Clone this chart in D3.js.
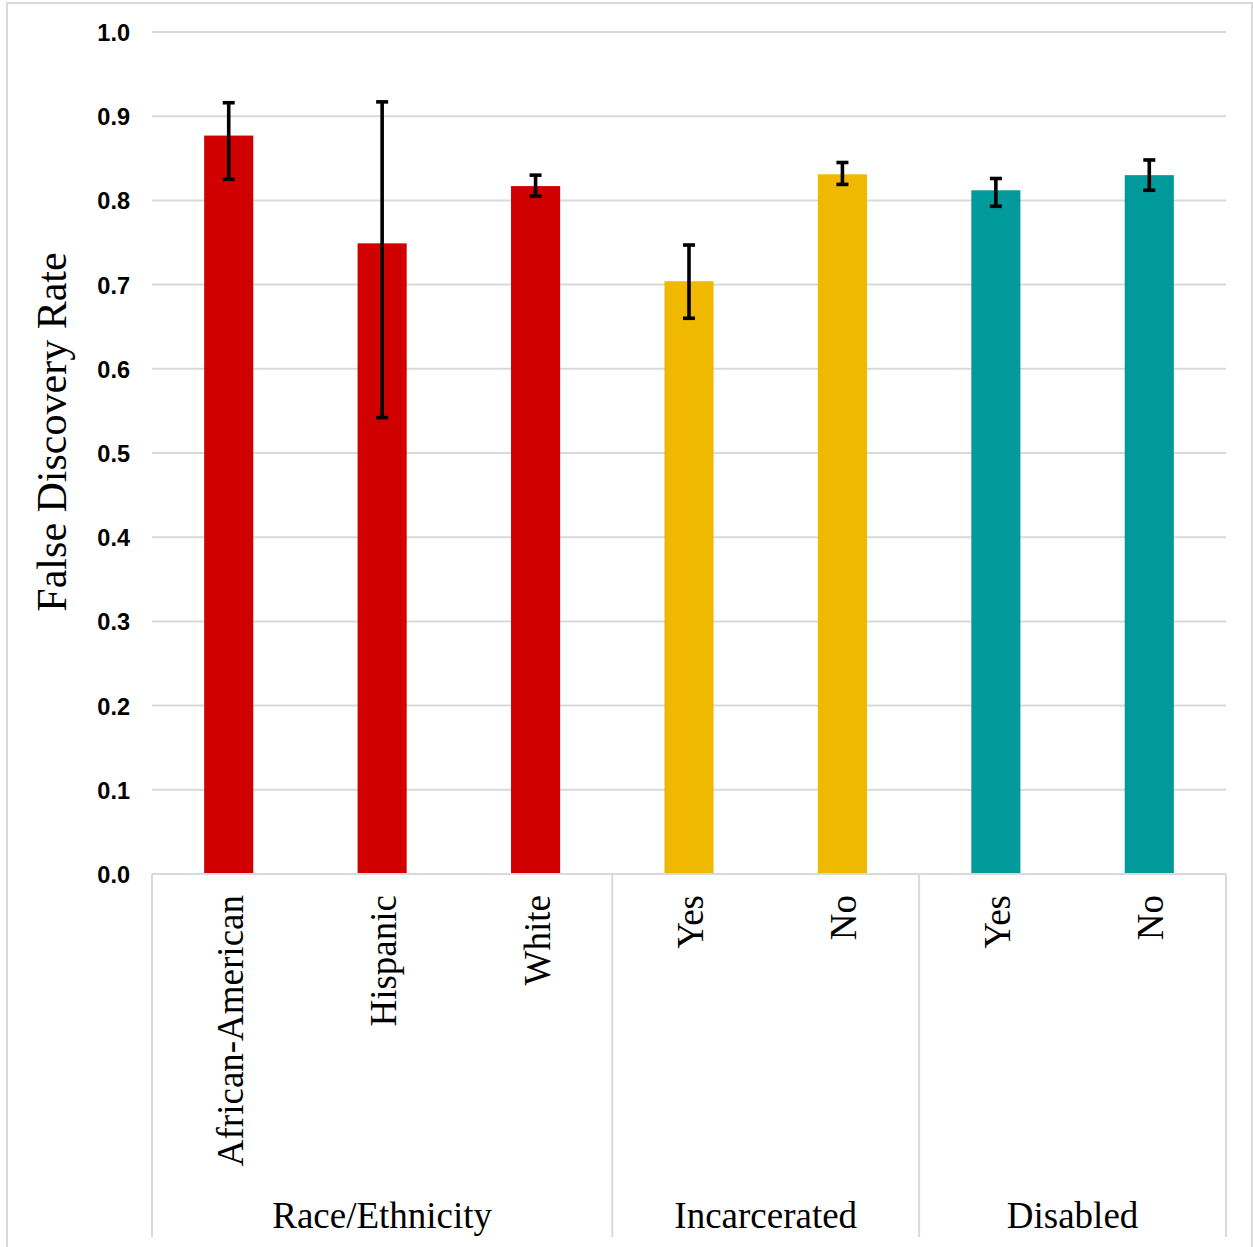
<!DOCTYPE html>
<html>
<head>
<meta charset="utf-8">
<script src="https://cdn.jsdelivr.net/npm/d3@7"></script>
<style>
  html, body { margin: 0; padding: 0; background: #fff; }
  svg { display: block; }
</style>
</head>
<body>
<svg id="chart" width="1253" height="1247"></svg>
<script>
// ---- data ----
const categories = ["African-American", "Hispanic", "White", "Yes", "No", "Yes", "No"];
const groupOf    = [0, 0, 0, 1, 1, 2, 2];
const groups     = ["Race/Ethnicity", "Incarcerated", "Disabled"];
const groupColors = ["#D10000", "#F1B800", "#009A9A"];
const values     = [0.877, 0.749, 0.817, 0.704, 0.831, 0.812, 0.830];
const errHigh    = [0.916, 0.917, 0.830, 0.747, 0.845, 0.826, 0.848];
const errLow     = [0.825, 0.542, 0.805, 0.660, 0.819, 0.793, 0.812];
const yTicks     = [0, 0.1, 0.2, 0.3, 0.4, 0.5, 0.6, 0.7, 0.8, 0.9, 1.0];
const yTitle     = "False Discovery Rate";

(function () {
// ---- layout ----
const svg = d3.select("#chart");
const pLeft = 152, pRight = 1226, pTop = 32, pBottom = 874;
const grid = "#d9d9d9";

const idx = categories.map((_, i) => i);
const x = d3.scaleBand().domain(idx).range([pLeft, pRight]).paddingInner(0.68).paddingOuter(0.34);
const y = d3.scaleLinear().domain([0, 1]).range([pBottom, pTop]);
const gap = (x.step() - x.bandwidth()) / 2;
const boundary = i => (i < idx.length ? x(i) - gap : x(idx.length - 1) + x.bandwidth() + gap);

// outer border
svg.append("rect").attr("x", 7).attr("y", 3).attr("width", 1245).attr("height", 1260)
  .attr("fill", "none").attr("stroke", grid).attr("stroke-width", 2);

// gridlines
svg.append("g").selectAll("line").data(yTicks.slice(1)).join("line")
  .attr("x1", pLeft).attr("x2", pRight)
  .attr("y1", d => y(d)).attr("y2", d => y(d))
  .attr("stroke", grid).attr("stroke-width", 2);

// y axis labels
const yAxis = d3.axisLeft(y).tickValues(yTicks).tickFormat(d3.format(".1f")).tickSize(0).tickPadding(22);
const ya = svg.append("g").attr("transform", `translate(${pLeft},0)`).call(yAxis);
ya.select(".domain").remove();
ya.selectAll("text")
  .attr("font-family", "'Liberation Sans', Arial, sans-serif")
  .attr("font-weight", "bold").attr("font-size", 23.5).attr("fill", "#000")
  .attr("dy", "0.36em");

// bars
svg.append("g").selectAll("rect").data(idx).join("rect")
  .attr("x", i => x(i)).attr("width", x.bandwidth())
  .attr("y", i => y(values[i])).attr("height", i => y(0) - y(values[i]))
  .attr("fill", i => groupColors[groupOf[i]]);

// error bars
const eb = svg.append("g").attr("stroke", "#000").attr("stroke-width", 3.6);
const cx = i => x(i) + x.bandwidth() / 2;
eb.selectAll("line.v").data(idx).join("line").attr("class", "v")
  .attr("x1", cx).attr("x2", cx)
  .attr("y1", i => y(errHigh[i])).attr("y2", i => y(errLow[i]));
eb.selectAll("line.t").data(idx).join("line").attr("class", "t")
  .attr("x1", i => cx(i) - 6).attr("x2", i => cx(i) + 6)
  .attr("y1", i => y(errHigh[i])).attr("y2", i => y(errHigh[i]));
eb.selectAll("line.b").data(idx).join("line").attr("class", "b")
  .attr("x1", i => cx(i) - 6).attr("x2", i => cx(i) + 6)
  .attr("y1", i => y(errLow[i])).attr("y2", i => y(errLow[i]));

// x axis line
svg.append("line").attr("x1", pLeft).attr("x2", pRight).attr("y1", pBottom).attr("y2", pBottom)
  .attr("stroke", grid).attr("stroke-width", 2);

// group separators
const bounds = [0, 3, 5, 7];
svg.append("g").selectAll("line").data(bounds).join("line")
  .attr("x1", b => boundary(b)).attr("x2", b => boundary(b))
  .attr("y1", pBottom).attr("y2", 1237)
  .attr("stroke", grid).attr("stroke-width", 2);

// category labels
svg.append("g").selectAll("text").data(idx).join("text")
  .attr("transform", i => `translate(${cx(i)},895) rotate(-90)`)
  .attr("text-anchor", "end").attr("dy", "0.38em")
  .attr("font-family", "'Liberation Serif', 'Times New Roman', serif")
  .attr("font-size", 37).attr("fill", "#000")
  .text(i => categories[i]);

// group labels
svg.append("g").selectAll("text").data(groups).join("text")
  .attr("x", (g, gi) => (boundary(bounds[gi]) + boundary(bounds[gi + 1])) / 2)
  .attr("y", 1228).attr("text-anchor", "middle")
  .attr("font-family", "'Liberation Serif', 'Times New Roman', serif")
  .attr("font-size", 37).attr("fill", "#000")
  .text(g => g);

// y title
svg.append("text")
  .attr("transform", "translate(66,432) rotate(-90)")
  .attr("text-anchor", "middle")
  .attr("font-family", "'Liberation Serif', 'Times New Roman', serif")
  .attr("font-size", 42).attr("fill", "#000")
  .text(yTitle);
})();
</script>
</body>
</html>
